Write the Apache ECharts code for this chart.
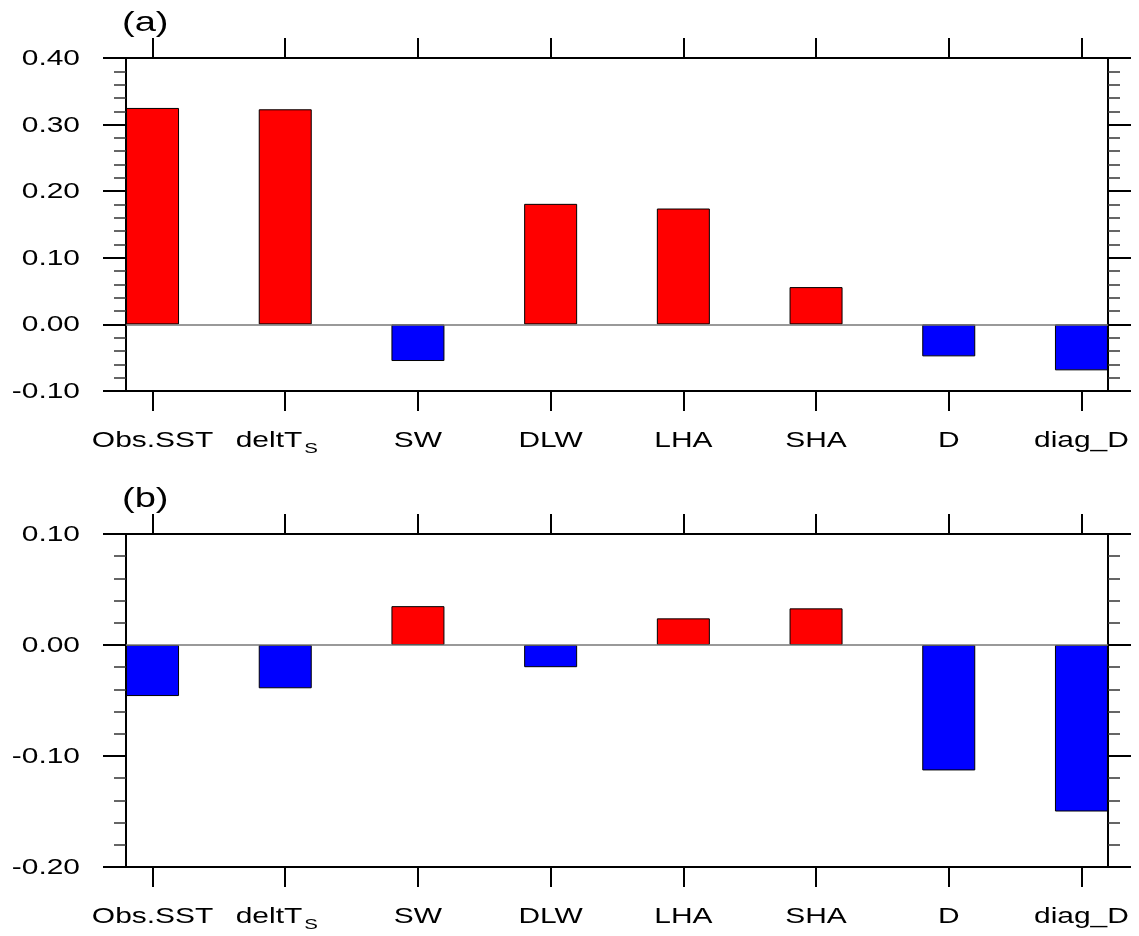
<!DOCTYPE html>
<html>
<head>
<meta charset="utf-8">
<script src="https://cdn.jsdelivr.net/npm/echarts@6/dist/echarts.min.js"></script>
<style>
html,body{margin:0;padding:0;background:#fff;}
#chart{width:1139px;height:936px;}
</style>
</head>
<body>
<div id="chart"></div>
<script>
// ---- data ----
const categories = ['Obs.SST', 'deltT', 'SW', 'DLW', 'LHA', 'SHA', 'D', 'diag_D'];
const categorySubscripts = ['', 'S', '', '', '', '', '', ''];
const valuesA = [0.325, 0.323, -0.055, 0.181, 0.174, 0.056, -0.048, -0.069];
const valuesB = [-0.046, -0.039, 0.035, -0.020, 0.024, 0.033, -0.113, -0.150];
const yTicksA = [-0.1, 0.0, 0.1, 0.2, 0.3, 0.4];
const yTicksB = [-0.2, -0.1, 0.0, 0.1];
const panelLabels = ['(a)', '(b)'];

const FONT = '"Liberation Sans", Arial, Helvetica, sans-serif';
const SX = 1.36; // horizontal stretch of the original lettering
const positions = categories.map((_, i) => i + 1);
const panels = [
  { vals: valuesA, ticks: yTicksA },
  { vals: valuesB, ticks: yTicksB }
];

const grids = [
  { left: 126, width: 982, top: 58, height: 333 },
  { left: 126, width: 982, top: 534, height: 333 }
];

const xAxes = [], yAxes = [], series = [];
panels.forEach((p, g) => {
  const common = {
    type: 'value', gridIndex: g, min: 0.8, max: 8.2,
    splitLine: { show: false },
    axisLabel: { show: false },
    axisLine: { show: true, onZero: false, lineStyle: { color: '#000', width: 2 } },
    axisTick: { show: true, inside: false, length: 20, customValues: positions, lineStyle: { color: '#000', width: 2 } }
  };
  xAxes.push(Object.assign({}, common, { position: 'bottom' }));
  xAxes.push(Object.assign({}, common, { position: 'top' }));
  const ycommon = {
    type: 'value', gridIndex: g, min: p.ticks[0], max: p.ticks[p.ticks.length - 1], interval: 0.1,
    splitLine: { show: false },
    axisLabel: { show: false },
    axisLine: { show: true, onZero: false, lineStyle: { color: '#000', width: 2 } },
    axisTick: { show: true, inside: false, length: 23, lineStyle: { color: '#000', width: 2 } },
    minorTick: { show: true, splitNumber: 5, length: 12, lineStyle: { color: '#333', width: 1.5 } },
    minorSplitLine: { show: false }
  };
  yAxes.push(Object.assign({}, ycommon, { position: 'left' }));
  yAxes.push(Object.assign({}, ycommon, { position: 'right' }));
  series.push({
    type: 'bar', xAxisIndex: g * 2, yAxisIndex: g * 2,
    barWidth: 53,
    data: p.vals.map((v, i) => [positions[i], v]),
    itemStyle: {
      color: q => (q.value[1] >= 0 ? '#ff0000' : '#0000ff'),
      borderColor: '#000', borderWidth: 1
    },
    markLine: {
      silent: true, symbol: 'none', label: { show: false },
      lineStyle: { color: '#777', width: 1.5, type: 'solid' },
      data: [{ yAxis: 0 }]
    }
  });
});

const chart = echarts.init(document.getElementById('chart'), null, { renderer: 'canvas' });
chart.setOption({
  animation: false,
  backgroundColor: '#fff',
  grid: grids,
  xAxis: xAxes,
  yAxis: yAxes,
  series: series
});

// ---- text labels placed through the axes' own scales ----
function txt(text, x, y, size, align, vAlign) {
  return {
    type: 'text', x: x, y: y, scaleX: SX, scaleY: 1, z: 100, silent: true,
    style: { text: text, font: size + 'px ' + FONT, fill: '#000', align: align, verticalAlign: vAlign }
  };
}
const graphics = [];
panels.forEach((p, g) => {
  const gr = grids[g];
  p.ticks.forEach(v => {
    const py = chart.convertToPixel({ yAxisIndex: g * 2 }, v);
    graphics.push(txt(v.toFixed(2), 80, py + 1, 22, 'right', 'middle'));
  });
  const yLab = gr.top + gr.height + 50;
  positions.forEach((pos, i) => {
    const px = chart.convertToPixel({ xAxisIndex: g * 2 }, pos);
    if (categorySubscripts[i]) {
      graphics.push(txt(categories[i], px + 17, yLab, 22, 'right', 'middle'));
      graphics.push(txt(categorySubscripts[i], px + 19, yLab + 8, 15, 'left', 'middle'));
    } else {
      graphics.push(txt(categories[i], px, yLab, 22, 'center', 'middle'));
    }
  });
  graphics.push(txt(panelLabels[g], 122, gr.top - 35, 28, 'left', 'middle'));
});
chart.setOption({ graphic: graphics });
</script>
</body>
</html>
